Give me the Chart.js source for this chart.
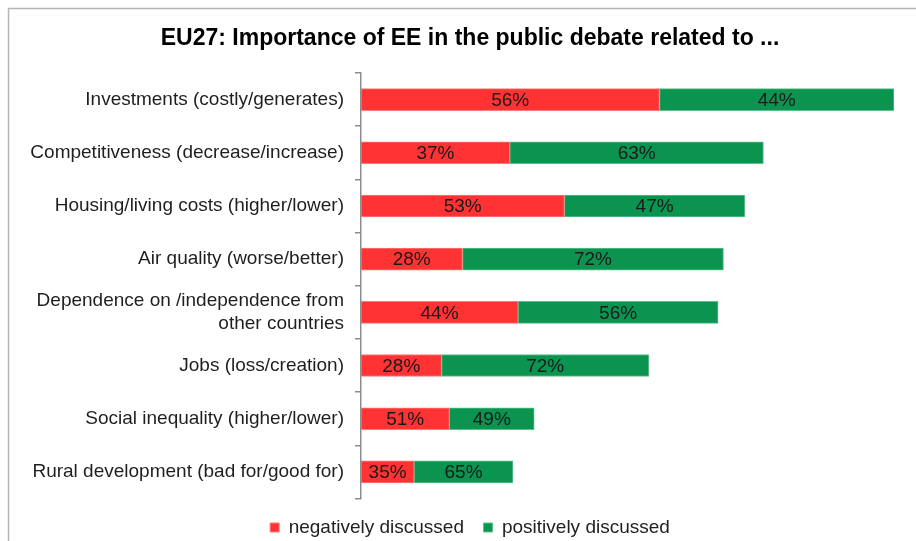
<!DOCTYPE html>
<html>
<head>
<meta charset="utf-8">
<script src="https://cdn.jsdelivr.net/npm/chart.js@4.4.1/dist/chart.umd.min.js"></script>
<style>
  html, body { margin: 0; padding: 0; background: #fff; overflow: hidden; }
  #wrap { width: 916px; height: 547px; position: relative; }
</style>
</head>
<body>
<div id="wrap"><canvas id="c"></canvas></div>
<script>
// categories, top to bottom
const categories = [
  "Investments (costly/generates)",
  "Competitiveness (decrease/increase)",
  "Housing/living costs (higher/lower)",
  "Air quality (worse/better)",
  ["Dependence on /independence from", "other countries"],
  "Jobs (loss/creation)",
  "Social inequality (higher/lower)",
  "Rural development (bad for/good for)"
];
// share of each side within a topic (%)
const negShare = [56, 37, 53, 28, 44, 28, 51, 35];
const posShare = [44, 63, 47, 72, 56, 72, 49, 65];
// overall bar length (importance index, longest = 100)
const importance = [100, 75.5, 72, 68, 67, 54, 32.5, 28.5];

const seriesNames = ["negatively discussed", "positively discussed"];

const negValues = importance.map((t, i) => t * negShare[i] / 100);
const posValues = importance.map((t, i) => t * posShare[i] / 100);

Chart.defaults.font.family = '"Liberation Sans", Arial, sans-serif';
Chart.defaults.color = "#222";

// grey frame of the slide
const framePlugin = {
  id: "frame",
  beforeDraw(chart) {
    const ctx = chart.ctx;
    ctx.save();
    ctx.fillStyle = "#fff";
    ctx.fillRect(0, 0, chart.width, chart.height);
    ctx.strokeStyle = "#b4b4b4";
    ctx.lineWidth = 1.5;
    ctx.beginPath();
    ctx.moveTo(916, 8.5);
    ctx.lineTo(8.5, 8.5);
    ctx.lineTo(8.5, chart.height);
    ctx.stroke();
    ctx.restore();
  }
};

// let the long category labels run left of the padded box (labels are clipped to the scale box)
const wideLabels = {
  id: "wideLabels",
  afterLayout(chart) {
    const y = chart.scales.y;
    y.left = 10;
    y.width = y.right - y.left;
  }
};

// percentage labels centred in each segment
const pctLabels = {
  id: "pctLabels",
  afterDatasetsDraw(chart) {
    const ctx = chart.ctx;
    const shares = [negShare, posShare];
    ctx.save();
    ctx.font = '19px "Liberation Sans", Arial, sans-serif';
    ctx.fillStyle = "#1a1a1a";
    ctx.textAlign = "center";
    ctx.textBaseline = "middle";
    chart.data.datasets.forEach((ds, di) => {
      chart.getDatasetMeta(di).data.forEach((bar, i) => {
        const cx = (bar.x + bar.base) / 2;
        ctx.fillText(shares[di][i] + "%", cx, bar.y + 1);
      });
    });
    ctx.restore();
  }
};

new Chart(document.getElementById("c"), {
  type: "bar",
  data: {
    labels: categories,
    datasets: [
      {
        label: seriesNames[0],
        data: negValues,
        backgroundColor: "#ff3333",
        borderColor: "#ff7a7a",
        borderWidth: 1,
        borderSkipped: false,
        barThickness: 22
      },
      {
        label: seriesNames[1],
        data: posValues,
        backgroundColor: "#0b9450",
        borderColor: "#5cc08a",
        borderWidth: 1,
        borderSkipped: false,
        barThickness: 22
      }
    ]
  },
  options: {
    indexAxis: "y",
    responsive: true,
    maintainAspectRatio: false,
    animation: false,
    layout: { padding: { left: 46, right: 22, top: 0, bottom: 0 } },
    plugins: {
      title: {
        display: true,
        text: "EU27: Importance of EE in the public debate related to ...",
        color: "#000",
        font: { size: 23, weight: "bold" },
        padding: { top: 25, bottom: 20.4 }
      },
      legend: {
        position: "bottom",
        labels: {
          boxWidth: 9,
          boxHeight: 9,
          padding: 19.5,
          color: "#222",
          font: { size: 19 }
        }
      },
      tooltip: { enabled: false }
    },
    scales: {
      x: {
        stacked: true,
        min: 0,
        max: 100,
        display: false
      },
      y: {
        stacked: true,
        grid: {
          drawOnChartArea: false,
          drawTicks: true,
          tickLength: 6,
          color: "#8c8c8c",
          lineWidth: 1.5
        },
        border: { display: true, color: "#8c8c8c", width: 1.5 },
        ticks: {
          autoSkip: false,
          padding: 11,
          color: "#1f1f1f",
          font: { size: 19 }
        },
        afterFit(scale) { scale.width = 315; }
      }
    }
  },
  plugins: [framePlugin, wideLabels, pctLabels]
});
</script>
</body>
</html>
